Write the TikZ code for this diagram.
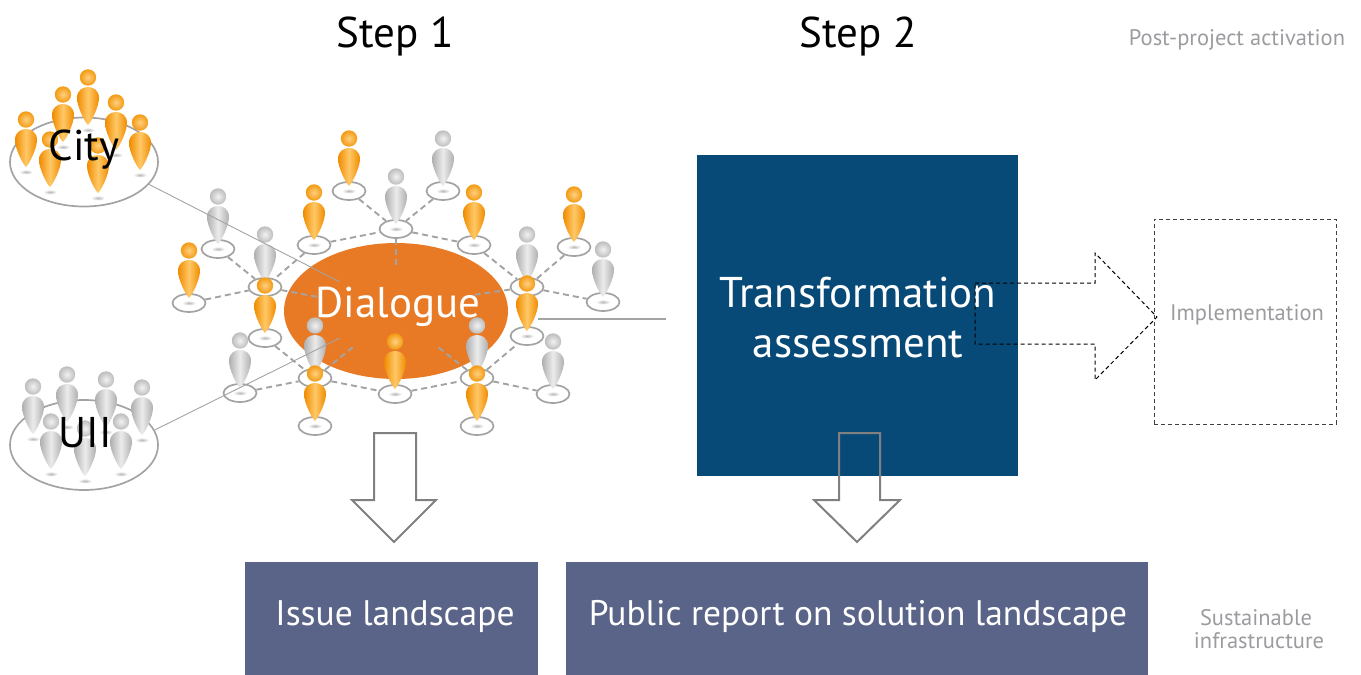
\documentclass[tikz,border=0pt]{standalone}
\usepackage{fontspec}
\setmainfont{PT Sans}
\usetikzlibrary{shapes.geometric}
\definecolor{dlgorange}{HTML}{E97A25}
\definecolor{tabblue}{HTML}{084A77}
\definecolor{slate}{HTML}{5A6488}
\definecolor{txtgray}{HTML}{9C9CA0}
\definecolor{ringgray}{HTML}{A3A3A3}
\definecolor{arrgray}{HTML}{808080}
\definecolor{Odark}{HTML}{F08C00}
\definecolor{Olight}{HTML}{FFC867}
\definecolor{Oballin}{HTML}{FFD080}
\definecolor{Oballout}{HTML}{F39A12}
\definecolor{Gdark}{HTML}{AFAFAF}
\definecolor{Glight}{HTML}{ECECEC}
\definecolor{Gballin}{HTML}{F2F2F2}
\definecolor{Gballout}{HTML}{BDBDBD}
\tikzset{
  pics/person/.style={code={
    \shade[inner color=gray!55, outer color=white] (0,0) ellipse [x radius=7pt, y radius=2.5pt];
    \shade[left color=#1dark, right color=#1dark, middle color=#1light]
      (0,-5) .. controls (-4,-9) and (-11,-24) .. (-11,-32)
      .. controls (-11,-40) and (-5,-43) .. (0,-43)
      .. controls (5,-43) and (11,-40) .. (11,-32)
      .. controls (11,-24) and (4,-9) .. (0,-5) -- cycle;
    \shade[inner color=#1ballin, outer color=#1ballout] (0,-52.5) circle [radius=8.2pt];
  }},
  ringnode/.style={ellipse, draw=ringgray, line width=1.7pt, fill=white,
    minimum width=33pt, minimum height=18pt, inner sep=0pt},
  netdash/.style={draw=ringgray, line width=1.9pt, dash pattern=on 6pt off 4pt},
  thinlink/.style={draw=ringgray, line width=0.9pt},
  downarrow/.style={draw=arrgray, line width=2pt},
  bluedash/.style={draw=black, line width=1pt, dash pattern=on 4pt off 3pt},
  bigtxt/.style={font=\fontsize{43}{50}\selectfont, inner sep=0pt},
  boxtxt/.style={font=\fontsize{35.5}{42}\selectfont, text=white, inner sep=0pt},
  graytxt/.style={font=\fontsize{22.5}{27}\selectfont, text=txtgray, inner sep=0pt},
}
\begin{document}
\begin{tikzpicture}[x=1pt, y=-1pt]
\useasboundingbox (0,0) rectangle (1361,675);

% titles
\node[bigtxt, anchor=base] (step1) at (395,47) {Step 1};
\node[bigtxt, anchor=base] (step2) at (858,47) {Step 2};
\node[graytxt, anchor=base] (post) at (1237,45) {Post-project activation};

% dialogue ellipse
\node[ellipse, fill=dlgorange, minimum width=224pt, minimum height=136pt, inner sep=0pt] (dlg) at (396,311) {};
\coordinate (d1) at (396,268);
\coordinate (d2) at (318,297);
\coordinate (d3) at (473,295);
\coordinate (d4) at (353,347);
\coordinate (d5) at (438,347);

% rings
\node[ringnode] (r1) at (349,191) {};
\node[ringnode] (r2) at (443,191) {};
\node[ringnode] (r3) at (396,229) {};
\node[ringnode] (r4) at (314,245) {};
\node[ringnode] (r5) at (474,245) {};
\node[ringnode] (r6) at (574,247) {};
\node[ringnode] (r7) at (218,249) {};
\node[ringnode] (r8) at (265,287) {};
\node[ringnode] (r10) at (527,287) {};
\node[ringnode] (r11) at (603,302) {};
\node[ringnode] (r9) at (189,303) {};
\node[ringnode] (r8b) at (265,338) {};
\node[ringnode] (r10b) at (527,336) {};
\node[ringnode] (r13) at (315,378) {};
\node[ringnode] (r15) at (477,378) {};
\node[ringnode] (r12) at (240,393) {};
\node[ringnode] (r14) at (395,394) {};
\node[ringnode] (r16) at (553,394) {};
\node[ringnode] (r13b) at (315,426) {};
\node[ringnode] (r15b) at (477,426) {};

% dashed network
\draw[netdash] (r1) -- (r3);
\draw[netdash] (r2) -- (r3);
\draw[netdash] (r3) -- (d1);
\draw[netdash] (r4) -- (r3);
\draw[netdash] (r3) -- (r5);
\draw[netdash] (r5) -- (r10);
\draw[netdash] (r6) -- (r10);
\draw[netdash] (r10) -- (r11);
\draw[netdash] (r10) -- (d3);
\draw[netdash] (r7) -- (r8);
\draw[netdash] (r4) -- (r8);
\draw[netdash] (r9) -- (r8);
\draw[netdash] (r8) -- (d2);
\draw[netdash] (r8b) -- (r13);
\draw[netdash] (r12) -- (r13);
\draw[netdash] (r13) -- (d4);
\draw[netdash] (r13) -- (r14);
\draw[netdash] (r14) -- (r15);
\draw[netdash] (r15) -- (d5);
\draw[netdash] (r15) -- (r10b);
\draw[netdash] (r15) -- (r16);

% people on rings (back to front)
\pic at (r1) {person=O};
\pic at (r2) {person=G};
\pic at (r3) {person=G};
\pic at (r4) {person=O};
\pic at (r5) {person=O};
\pic at (r6) {person=O};
\pic at (r7) {person=G};
\pic at (r8) {person=G};
\pic at (r10) {person=G};
\pic at (r11) {person=G};
\pic at (r9) {person=O};
\pic at (r8b) {person=O};
\pic at (r10b) {person=O};
\pic at (r13) {person=G};
\pic at (r15) {person=G};
\pic at (r12) {person=G};
\pic at (r14) {person=O};
\pic at (r16) {person=G};
\pic at (r13b) {person=O};
\pic at (r15b) {person=O};

% City group
\node[ellipse, draw=ringgray, line width=1.7pt, minimum width=148pt, minimum height=89pt, inner sep=0pt] (cityring) at (84,162) {};
\pic at (88,130) {person=O};
\pic at (63,147) {person=O};
\pic at (116,155) {person=O};
\pic at (26,172) {person=O};
\pic at (140,175) {person=O};
\pic at (50,192) {person=O};
\pic at (98,198) {person=O};
\node[bigtxt, anchor=base] (citytxt) at (84,160) {City};

% UII group
\node[ellipse, draw=ringgray, line width=1.7pt, minimum width=148pt, minimum height=90pt, inner sep=0pt] (uiiring) at (84,445) {};
\pic at (67,427) {person=G};
\pic at (106,432) {person=G};
\pic at (33,439) {person=G};
\pic at (142,440) {person=G};
\pic at (51,474) {person=G};
\pic at (121,474) {person=G};
\pic at (85,481) {person=G};
\node[bigtxt, anchor=base] (uiitxt) at (85,447) {UII};

% links from groups to dialogue
\coordinate (dc) at (340,282);
\coordinate (du) at (340,338);
\draw[thinlink] (cityring.-19) -- (dc);
\draw[thinlink] (uiiring.12) -- (du);

\node[bigtxt, anchor=base, text=white] (dlgtxt) at (398,317) {Dialogue};

% link dialogue -> transformation
\coordinate (la) at (538,319);
\coordinate (lb) at (666,319);
\draw[draw=ringgray, line width=2.5pt] (la) -- (lb);

% transformation box
\node[rectangle, fill=tabblue, minimum width=321pt, minimum height=321pt, inner sep=0pt] (tbox) at (857.5,315.5) {};
\node[bigtxt, anchor=base, text=white] (t1) at (858,307) {Transformation};
\node[bigtxt, anchor=base, text=white] (t2) at (858,357) {assessment};

% dashed arrow to implementation
\draw[bluedash] (975,283) -- (1095,283) -- (1095,253) -- (1157,317) -- (1095,380) -- (1095,344) -- (975,344) -- cycle;
\node[rectangle, draw=black!75, line width=1pt, dash pattern=on 4pt off 3pt, minimum width=182pt, minimum height=205pt, inner sep=0pt] (impl) at (1245,321.5) {};
\node[graytxt, anchor=base] (impltxt) at (1247,320) {Implementation};

% down arrows
\draw[downarrow] (374,433) -- (416,433) -- (416,500) -- (436,500) -- (394,542) -- (352,500) -- (374,500) -- cycle;
\draw[downarrow] (839,433) -- (880,433) -- (880,500) -- (900,500) -- (857,542) -- (814,500) -- (839,500) -- cycle;

% bottom boxes
\node[rectangle, fill=slate, minimum width=293pt, minimum height=113pt, inner sep=0pt] (issue) at (391.5,618.5) {};
\node[boxtxt, anchor=base] (issuetxt) at (395,625) {Issue landscape};
\node[rectangle, fill=slate, minimum width=582pt, minimum height=113pt, inner sep=0pt] (report) at (857,618.5) {};
\node[boxtxt, anchor=base] (reporttxt) at (858,625) {Public report on solution landscape};

\node[graytxt, anchor=base] (sust1) at (1256,625) {Sustainable};
\node[graytxt, anchor=base] (sust2) at (1259,648) {infrastructure};
\end{tikzpicture}
\end{document}
